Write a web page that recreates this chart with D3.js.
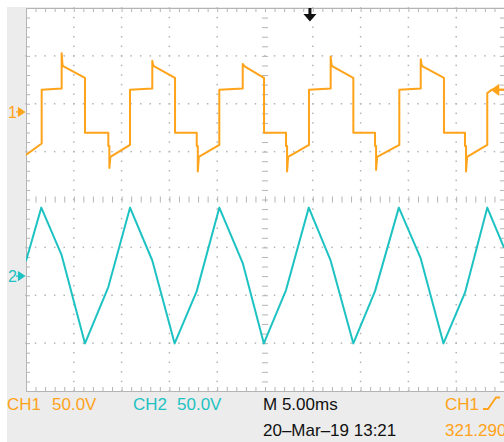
<!DOCTYPE html>
<html>
<head>
<meta charset="utf-8">
<script src="https://cdn.jsdelivr.net/npm/d3@7"></script>
<style>
  body { margin: 0; background: #fff; }
  svg { display: block; }
  text { font-family: "Liberation Sans", Arial, sans-serif; }
</style>
</head>
<body>
<div id="scope"></div>
<script>
// waveforms, [time ms, volts]
var ch1 = [
  [0.00, -44.9], [1.64, -33.0], [1.64, 23.0], [3.73, 24.5], [3.73, 61.3], [3.82, 49.0], [3.93, 47.5], [6.07, 36.0], [6.17, 35.5], [6.17, -21.9], [8.61, -21.9], [8.61, -35.5], [8.72, -35.5], [8.72, -58.5], [8.83, -47.0],
  [10.88, -34.5], [10.88, 23.0], [13.21, 24.5], [13.21, 53.3], [13.30, 49.0], [13.41, 47.5], [15.49, 36.0], [15.59, 35.5], [15.59, -21.9], [17.86, -21.9], [17.86, -35.5], [17.97, -35.5], [17.97, -62.3], [18.08, -47.0],
  [20.22, -34.5], [20.22, 23.0], [22.67, 24.5], [22.67, 50.0], [22.76, 49.0], [22.87, 47.5], [24.80, 36.0], [24.90, 35.5], [24.90, -21.9], [27.20, -21.9], [27.20, -35.5], [27.31, -35.5], [27.31, -62.3], [27.42, -47.0],
  [29.60, -34.5], [29.60, 23.0], [31.87, 24.5], [31.87, 57.8], [31.96, 49.0], [32.07, 47.5], [34.14, 36.0], [34.24, 35.5], [34.24, -21.9], [36.51, -21.9], [36.51, -35.5], [36.62, -35.5], [36.62, -60.6], [36.73, -47.0],
  [39.05, -34.5], [39.05, 23.0], [41.29, 24.5], [41.29, 55.0], [41.38, 49.0], [41.49, 47.5], [43.62, 36.0], [43.72, 35.5], [43.72, -21.9], [45.92, -21.9], [45.92, -35.5], [46.03, -35.5], [46.03, -62.3], [46.14, -47.0],
  [48.25, -34.5], [48.25, 19.6], [48.70, 23.0], [50.00, 23.5]
];

var ch2 = [
  [0.00, 15.7], [1.60, 71.5], [3.73, 21.9], [6.17, -70.3], [8.61, -11.5],
  [10.88, 71.5], [13.21, 16.3], [15.55, -70.3], [17.86, -15.7],
  [20.22, 71.5], [22.67, 13.6], [24.88, -70.3], [27.20, -14.6],
  [29.58, 71.5], [31.87, 16.1], [34.24, -70.3], [36.51, -15.7],
  [39.00, 71.5], [41.29, 18.5], [43.67, -70.3], [45.92, -17.3],
  [48.25, 71.5], [50.00, 29.8]
];

// readout texts
var ch1Readout = ["CH1", "50.0V"];
var ch2Readout = ["CH2", "50.0V"];
var timeReadout = "M 5.00ms";
var dateReadout = "20\u2013Mar\u201319 13:21";
var trigReadout = ["CH1", "321.290"];

// scope settings
var voltsPerDiv = 50;
var msPerDiv = 5;
var ch1Pos = 91.5;    // volts the trace is moved up
var ch2Pos = -80;
var trigTime = 29.7;  // ms
var trigLevel = 23;   // volts on ch1

var orange = "#ffa31a";
var cyan = "#1ec2c2";

var svgWidth = 504, svgHeight = 442;
var plot = { left: 26, top: 8, right: 504, bottom: 391 };

var svg = d3.select("#scope").append("svg")
    .attr("width", svgWidth)
    .attr("height", svgHeight);

svg.append("rect").attr("x", 7).attr("y", 7)
    .attr("width", svgWidth - 7).attr("height", svgHeight - 7)
    .attr("fill", "#ececec");
svg.append("rect").attr("x", plot.left).attr("y", plot.top)
    .attr("width", plot.right - plot.left).attr("height", plot.bottom - plot.top)
    .attr("fill", "#fff");

// scales
var x = d3.scaleLinear().domain([0, 10 * msPerDiv]).range([plot.left, plot.right]);
var divX = d3.scaleLinear().domain([0, 10]).range([plot.left, plot.right]);
var divY = d3.scaleLinear().domain([4, -4]).range([plot.top, plot.bottom]);
var y1 = d3.scaleLinear().domain([-4 * voltsPerDiv - ch1Pos, 4 * voltsPerDiv - ch1Pos]).range([plot.bottom, plot.top]);
var y2 = d3.scaleLinear().domain([-4 * voltsPerDiv - ch2Pos, 4 * voltsPerDiv - ch2Pos]).range([plot.bottom, plot.top]);

var minorX = d3.range(0, 51).map(function (k) { return k / 5; });
var minorY = d3.range(-20, 21).map(function (k) { return k / 5; });

// dotted graticule
var grid = svg.append("g").attr("fill", "#b4b4b4");
[1, 2, 3, 4, 6, 7, 8, 9].forEach(function (i) {
  grid.selectAll(null).data(minorY).enter().append("rect")
      .attr("x", divX(i) - 0.75).attr("y", function (d) { return divY(d) - 0.75; })
      .attr("width", 1.5).attr("height", 1.5);
});
[-3, -2, -1, 1, 2, 3].forEach(function (j) {
  grid.selectAll(null).data(minorX).enter().append("rect")
      .attr("x", function (d) { return divX(d) - 0.75; }).attr("y", divY(j) - 0.75)
      .attr("width", 1.5).attr("height", 1.5);
});

// border and center ticks
function styleAxis(g) {
  g.selectAll("path").attr("stroke", "#b4b4b4");
  g.selectAll("line").attr("stroke", "#b4b4b4");
}
svg.append("g").attr("transform", "translate(0," + plot.top + ")")
    .call(d3.axisTop(divX).tickValues(minorX).tickSize(-4).tickSizeOuter(0).tickFormat(""))
    .call(styleAxis);
svg.append("g").attr("transform", "translate(0," + plot.bottom + ")")
    .call(d3.axisBottom(divX).tickValues(minorX).tickSize(-4).tickSizeOuter(0).tickFormat(""))
    .call(styleAxis);
svg.append("g").attr("transform", "translate(" + plot.left + ",0)")
    .call(d3.axisLeft(divY).tickValues(minorY).tickSize(-4).tickSizeOuter(0).tickFormat(""))
    .call(styleAxis);
svg.append("g").attr("transform", "translate(" + plot.right + ",0)")
    .call(d3.axisRight(divY).tickValues(minorY).tickSize(-4).tickSizeOuter(0).tickFormat(""))
    .call(styleAxis);
svg.append("g").attr("transform", "translate(0," + (divY(0) - 3) + ")")
    .call(d3.axisBottom(divX).tickValues(minorX).tickSize(6).tickFormat(""))
    .call(styleAxis)
    .select(".domain").remove();
svg.append("g").attr("transform", "translate(" + (divX(5) - 3) + ",0)")
    .call(d3.axisRight(divY).tickValues(minorY).tickSize(6).tickFormat(""))
    .call(styleAxis)
    .select(".domain").remove();

// traces
svg.append("clipPath").attr("id", "screen").append("rect")
    .attr("x", plot.left).attr("y", plot.top)
    .attr("width", plot.right - plot.left).attr("height", plot.bottom - plot.top);

var line1 = d3.line().x(function (d) { return x(d[0]); }).y(function (d) { return y1(d[1]); });
var line2 = d3.line().x(function (d) { return x(d[0]); }).y(function (d) { return y2(d[1]); });

svg.append("path").datum(ch2)
    .attr("clip-path", "url(#screen)")
    .attr("d", line2)
    .attr("fill", "none").attr("stroke", cyan).attr("stroke-width", 2)
    .attr("stroke-linejoin", "round");
svg.append("path").datum(ch1)
    .attr("clip-path", "url(#screen)")
    .attr("d", line1)
    .attr("fill", "none").attr("stroke", orange).attr("stroke-width", 2)
    .attr("stroke-linejoin", "round");

// channel ground markers
function groundMarker(label, yPos, color) {
  svg.append("text").attr("x", 8).attr("y", yPos + 6)
      .attr("font-size", 16).attr("fill", color).text(label);
  svg.append("path")
      .attr("d", "M16," + yPos + "H19M18.5," + (yPos - 4) + "L24.5," + yPos + "L18.5," + (yPos + 4) + "Z")
      .attr("fill", color).attr("stroke", color).attr("stroke-width", 1.2);
}
groundMarker("1", y1(0), orange);
groundMarker("2", y2(0), cyan);

// trigger position (top) and trigger level (right)
var tx = x(trigTime);
svg.append("path")
    .attr("d", "M" + (tx - 1.5) + "," + plot.top + "H" + (tx + 1.5) + "V14H" + (tx + 6.5) +
          "L" + tx + ",21.5L" + (tx - 6.5) + ",14H" + (tx - 1.5) + "Z")
    .attr("fill", "#111");
var ty = y1(trigLevel);
svg.append("path")
    .attr("d", "M492," + ty + "L498.5," + (ty - 4.5) + "V" + (ty + 4.5) + "Z M497," + ty + "H504")
    .attr("fill", orange).attr("stroke", orange).attr("stroke-width", 1.6);

// readouts
var row1 = 409.5, row2 = 436;
function readout(str, xPos, yPos, color) {
  svg.append("text").attr("x", xPos).attr("y", yPos)
      .attr("font-size", 17).attr("fill", color).text(str);
}
readout(ch1Readout[0], 7, row1, orange);
readout(ch1Readout[1], 52, row1, orange);
readout(ch2Readout[0], 133, row1, cyan);
readout(ch2Readout[1], 177, row1, cyan);
readout(timeReadout, 263, row1, "#111");
readout(trigReadout[0], 445, row1, orange);
readout(dateReadout, 263, row2, "#111");
readout(trigReadout[1], 445, row2, orange);

// rising slope symbol
svg.append("path")
    .attr("d", "M483," + (row1 - 0.5) + "H488L496," + (row1 - 12) + "H500")
    .attr("fill", "none").attr("stroke", orange).attr("stroke-width", 1.8);
</script>
</body>
</html>
